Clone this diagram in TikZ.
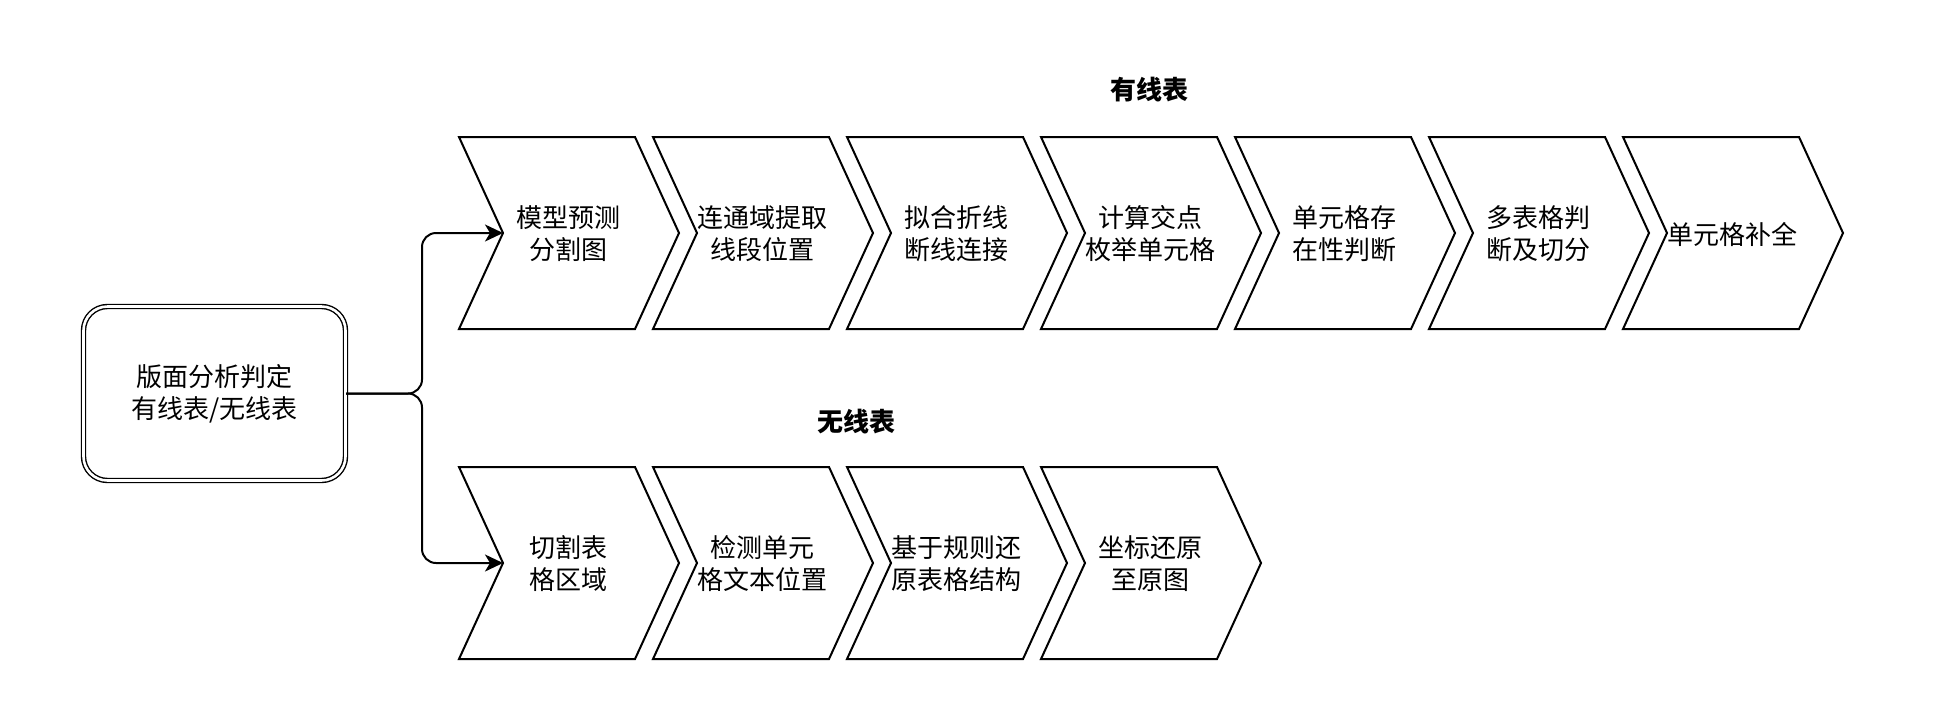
\documentclass[tikz,border=0pt]{standalone}
\usepackage{fontspec}
\setmainfont{Noto Sans CJK SC}
\usetikzlibrary{arrows.meta}
\tikzset{
  chev/.style={draw=black, line width=1pt, fill=white, line join=miter},
  chevtext/.style={inner sep=0pt, align=center, font=\fontsize{13pt}{16pt}\selectfont},
  conn/.style={draw=black, line width=1pt, rounded corners=7pt, -{Stealth[length=9pt,width=8.5pt,inset=2.5pt]}},
  mainbox/.style={draw=black, line width=0.7pt, double, double distance=1.3pt, rounded corners=12pt,
    minimum width=131pt, minimum height=87pt, align=center, inner sep=0pt,
    font=\fontsize{13pt}{16pt}\selectfont},
  grouplabel/.style={inner sep=0pt, font=\fontsize{13pt}{16pt}\selectfont\bfseries}
}
\newcommand{\mychevron}[4]{%
  \draw[chev] (#1,#2) -- ++(176,0) -- ++(44,96) -- ++(-44,96) -- ++(-176,0) -- ++(44,-96) -- cycle;
  \node[chevtext] (#3) at (#1+109,#2+97) {#4};
  \coordinate (#3-in) at (#1+44,#2+96);
}
\begin{document}
\begin{tikzpicture}[x=0.5pt,y=-0.5pt]
\useasboundingbox (0,0) rectangle (1946,718);
\fill[white] (0,0) rectangle (1946,718);

% main box
\node[mainbox] (box) at (214.5,393.5) {版面分析判定\\有线表/无线表};

% labels
\node[grouplabel] (lab1) at (1149,90) {有线表};
\node[grouplabel] (lab2) at (856,422) {无线表};

% top row
\mychevron{459}{137}{a1}{模型预测\\分割图}
\mychevron{653}{137}{a2}{连通域提取\\线段位置}
\mychevron{847}{137}{a3}{拟合折线\\断线连接}
\mychevron{1041}{137}{a4}{计算交点\\枚举单元格}
\mychevron{1235}{137}{a5}{单元格存\\在性判断}
\mychevron{1429}{137}{a6}{多表格判\\断及切分}
\mychevron{1623}{137}{a7}{单元格补全}

% bottom row
\mychevron{459}{467}{b1}{切割表\\格区域}
\mychevron{653}{467}{b2}{检测单元\\格文本位置}
\mychevron{847}{467}{b3}{基于规则还\\原表格结构}
\mychevron{1041}{467}{b4}{坐标还原\\至原图}

% connectors
\coordinate (split) at (422,393.5);
\draw[conn] (box.east) -- (split) |- (a1-in);
\draw[conn] (box.east) -- (split) |- (b1-in);
\end{tikzpicture}
\end{document}
